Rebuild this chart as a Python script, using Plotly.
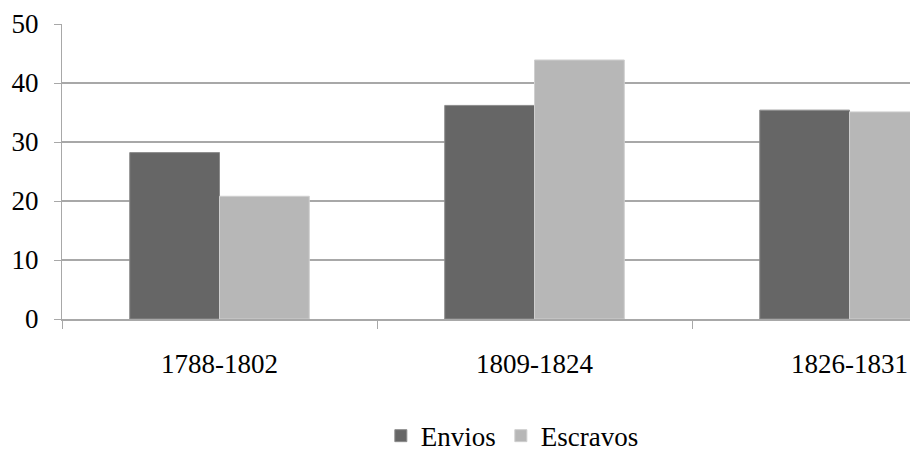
import plotly.graph_objects as go

periods = ["1788-1802", "1809-1824", "1826-1831"]
envios = [28.2, 36.2, 35.4]
escravos = [20.8, 43.9, 35.1]
y_ticks = [0, 10, 20, 30, 40, 50]

FONT = "Liberation Serif, Times New Roman, serif"
GRID = "#a8a8a8"

fig = go.Figure()
fig.add_trace(go.Bar(
    name="Envios", x=periods, y=envios,
    marker=dict(color="#666666", line=dict(color="#8c8c8c", width=1)),
))
fig.add_trace(go.Bar(
    name="Escravos", x=periods, y=escravos,
    marker=dict(color="#b7b7b7", line=dict(color="#cfcfcf", width=1)),
))

fig.update_layout(
    width=910, height=453,
    margin=dict(l=62, r=0, t=24, b=134, autoexpand=False),
    paper_bgcolor="white", plot_bgcolor="white",
    barmode="group", bargap=0.43, bargroupgap=0,
    font=dict(family=FONT, size=27, color="black"),
    showlegend=True,
    legend=dict(
        orientation="h", xref="container", yref="paper",
        x=0.563, xanchor="center", y=-0.397, yanchor="middle",
        font=dict(family=FONT, size=27, color="black"),
        itemwidth=30, tracegroupgap=0,
    ),
)

fig.update_xaxes(
    range=[-0.5, 2.192], tickangle=0,
    showline=True, linecolor=GRID, linewidth=2,
    ticks="outside", tickson="boundaries", ticklen=8, tickcolor=GRID, tickwidth=1,
    showgrid=False, ticklabelstandoff=20,
    tickfont=dict(family=FONT, size=27, color="black"),
)
fig.update_yaxes(
    range=[0, 50], tickvals=y_ticks,
    showline=True, linecolor=GRID, linewidth=1,
    ticks="outside", ticklen=7, tickcolor=GRID,
    showgrid=True, gridcolor=GRID, gridwidth=1.5,
    zeroline=False, ticklabelstandoff=10,
    tickfont=dict(family=FONT, size=27, color="black"),
)

fig.write_html("out.html")
